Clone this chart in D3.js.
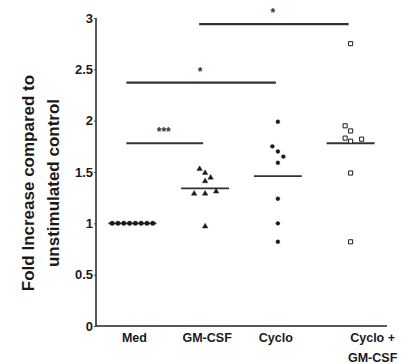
<!DOCTYPE html>
<html>
<head>
<meta charset="utf-8">
<script src="https://cdn.jsdelivr.net/npm/d3@7"></script>
<style>
  html, body { margin: 0; padding: 0; background: #fff; }
  svg { display: block; font-family: "Liberation Sans", Arial, sans-serif; }
</style>
</head>
<body>
<svg id="chart" width="410" height="364"></svg>
<script>
// ---- data ----
const categories = ["Med", "GM-CSF", "Cyclo", "Cyclo + GM-CSF"];
const medValues = [1.0, 1.0, 1.0, 1.0, 1.0, 1.0, 1.0, 1.0];
const gmcsfValues = [1.49, 1.41, 1.53, 1.445, 1.29, 1.29, 1.31, 0.97];
const cycloValues = [1.70, 1.59, 1.75, 1.65, 1.99, 1.24, 1.00, 0.82];
const comboValues = [1.90, 1.80, 1.95, 1.82, 1.83, 2.75, 1.49, 0.82];
const medians = [1.0, 1.34, 1.46, 1.78];
const yTicks = [0, 0.5, 1, 1.5, 2, 2.5, 3];
const yTickLabels = ["0", "0.5", "1", "1.5", "2", "2.5", "3"];
const sigFrom = ["Med", "Med", "GM-CSF"];
const sigTo = ["GM-CSF", "Cyclo", "Cyclo + GM-CSF"];
const sigLevel = [1.78, 2.37, 2.94];
const sigLabel = ["***", "*", "*"];
const yTitleLines = ["Fold Increase compared to", "unstimulated control"];

const seriesValues = [medValues, gmcsfValues, cycloValues, comboValues];
const seriesShapes = [d3.symbolCircle, d3.symbolTriangle, d3.symbolCircle, d3.symbolSquare];
const seriesSizes = [16, 13, 12, 17];
const seriesFilled = [true, true, true, false];

// ---- layout ----
const svg = d3.select("#chart");
const mLeft = 96, mRight = 387, mTop = 18, mBottom = 326;
const x = d3.scalePoint().domain(categories).range([mLeft, mRight]).padding(0.5);
const y = d3.scaleLinear().domain([0, 3]).range([mBottom, mTop]);
const ink = "#1a1a1a";

// axes
const yAxis = d3.axisLeft(y).tickValues(yTicks).tickSize(2).tickPadding(1)
  .tickFormat((d, i) => yTickLabels[i]);
const gy = svg.append("g").attr("transform", `translate(${mLeft},0)`).call(yAxis);
gy.select(".domain").attr("stroke", "#222").attr("stroke-width", 1.5).attr("d", `M0,${mTop}V${mBottom}`);
gy.selectAll(".tick line").attr("stroke", "#444");
gy.selectAll(".tick text").attr("fill", ink).style("font-size", "13px").style("font-weight", "bold")
  .attr("font-family", "Liberation Sans, Arial, sans-serif");

const xAxis = d3.axisBottom(x).tickSize(0).tickFormat("");
const gx = svg.append("g").attr("transform", `translate(0,${mBottom})`).call(xAxis);
gx.select(".domain").attr("stroke", "#222").attr("stroke-width", 1.5).attr("d", `M${mLeft},0H${mRight}`);

// x labels
categories.forEach((c, i) => {
  const parts = c.includes(" + ") ? [c.split(" + ")[0] + " +", c.split(" + ")[1]] : [c];
  const dx = parts.length > 1 ? 22 : (i === 2 ? -2 : 2);
  const t = svg.append("text")
    .attr("x", x(c) + dx).attr("y", mBottom + 16)
    .attr("text-anchor", "middle")
    .attr("fill", ink).style("font-size", "12.5px").style("font-weight", "bold");
  parts.forEach((p, k) => t.append("tspan").attr("x", x(c) + dx).attr("dy", k === 0 ? 0 : 20).text(p));
});

// y title
const titleCy = 183;
yTitleLines.forEach((line, k) => {
  svg.append("text")
    .attr("transform", `translate(${34 + k * 25},${titleCy}) rotate(-90)`)
    .attr("text-anchor", "middle")
    .attr("fill", ink).style("font-size", "17px").style("font-weight", "bold")
    .text(line);
});

// medians
svg.append("g").selectAll("line").data(categories).join("line")
  .attr("x1", d => x(d) - 24).attr("x2", d => x(d) + 24)
  .attr("y1", (d, i) => y(medians[i])).attr("y2", (d, i) => y(medians[i]))
  .attr("stroke", "#333").attr("stroke-width", 1.8);

// beeswarm placement
function swarm(values, step, minDist) {
  const placed = [];
  let lastSide = 1;
  values.forEach(v => {
    const py = y(v);
    const ok = dx => placed.every(p => Math.hypot(p.dx - dx, p.py - py) >= minDist - 1e-6);
    let chosen = null;
    if (ok(0)) chosen = 0;
    for (let k = 1; chosen === null && k < 10; k++) {
      const first = -lastSide, second = lastSide;
      if (ok(first * k * step)) { chosen = first * k * step; lastSide = first; }
      else if (ok(second * k * step)) { chosen = second * k * step; lastSide = second; }
    }
    placed.push({ v, dx: chosen, py });
  });
  return placed;
}

seriesValues.forEach((vals, i) => {
  const cx = x(categories[i]);
  const pts = swarm(vals, i === 0 ? 5.8 : 5.5, i === 0 ? 5.8 : 6);
  const shift = i === 0 ? 3 : 0;
  const sym = d3.symbol().type(seriesShapes[i]).size(seriesSizes[i]);
  svg.append("g").selectAll("path").data(pts).join("path")
    .attr("d", sym)
    .attr("transform", d => `translate(${cx + d.dx + shift},${d.py})`)
    .attr("fill", seriesFilled[i] ? ink : "#fff")
    .attr("stroke", ink).attr("stroke-width", seriesFilled[i] ? 0.4 : 1);
});

// significance bars
sigLevel.forEach((lv, i) => {
  const x1 = x(sigFrom[i]) - 6, x2 = x(sigTo[i]) - 2;
  svg.append("line").attr("x1", x1).attr("x2", x2).attr("y1", y(lv)).attr("y2", y(lv))
    .attr("stroke", "#333").attr("stroke-width", 2.2);
  svg.append("text").attr("x", (x1 + x2) / 2 - 1).attr("y", y(lv) - 7)
    .attr("text-anchor", "middle").attr("fill", "#333")
    .style("font-size", "12px").style("font-weight", "bold").text(sigLabel[i]);
});
</script>
</body>
</html>
